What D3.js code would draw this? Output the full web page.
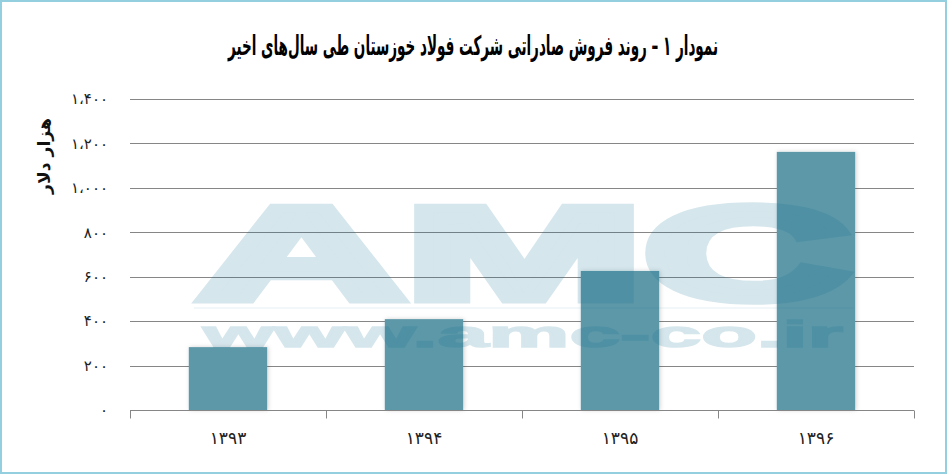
<!DOCTYPE html>
<html><head><meta charset="utf-8">
<script src="https://cdn.jsdelivr.net/npm/d3@7/dist/d3.min.js"></script>
<style>
html,body{margin:0;padding:0;background:#fff;}
svg{display:block;}
</style></head>
<body>
<svg id="chart" width="947" height="474"></svg>
<script>
const categories = ["۱۳۹۳", "۱۳۹۴", "۱۳۹۵", "۱۳۹۶"];
const values = [283, 409, 626, 1162];
const yTicks = [0, 200, 400, 600, 800, 1000, 1200, 1400];
const yTickLabels = ["۰", "۲۰۰", "۴۰۰", "۶۰۰", "۸۰۰", "۱،۰۰۰", "۱،۲۰۰", "۱،۴۰۰"];
const titleText = "نمودار ۱ – روند فروش صادراتی شرکت فولاد خوزستان طی سال‌های اخیر";
const yTitle = "هزار دلار";

const W = 947, H = 474;
const m = {left: 130, right: 33, top: 99, bottom: 64};
const svg = d3.select("#chart");

// border
svg.append("rect").attr("x", 1).attr("y", 1).attr("width", W - 2).attr("height", H - 2)
  .attr("fill", "#fff").attr("stroke", "#93cfdf").attr("stroke-width", 2);

const x = d3.scaleBand().domain(categories).range([m.left, W - m.right]).paddingInner(0.6).paddingOuter(0.3);
const y = d3.scaleLinear().domain([0, 1400]).range([H - m.bottom, m.top]);

// gridlines
svg.append("g").selectAll("line").data(yTicks.filter(d => d > 0)).join("line")
  .attr("x1", m.left).attr("x2", W - m.right)
  .attr("y1", d => Math.round(y(d)) + 0.5).attr("y2", d => Math.round(y(d)) + 0.5)
  .attr("stroke", "#868686").attr("stroke-width", 1);

// y labels
svg.append("g").selectAll("text").data(yTicks).join("text")
  .attr("x", 108).attr("y", d => y(d)).attr("dy", "0.35em")
  .attr("text-anchor", "end").attr("font-family", "DejaVu Sans").attr("font-size", 15)
  .attr("fill", "#222").text((d, i) => yTickLabels[i]);

// shadow filter
const defs = svg.append("defs");
const f = defs.append("filter").attr("id", "sh").attr("x", "-20%").attr("y", "-10%").attr("width", "140%").attr("height", "120%");
f.append("feDropShadow").attr("dx", 1).attr("dy", 0).attr("stdDeviation", 2).attr("flood-color", "#000").attr("flood-opacity", 0.18);

// bars
svg.append("g").selectAll("rect").data(values).join("rect")
  .attr("x", (d, i) => x(categories[i])).attr("width", x.bandwidth())
  .attr("y", d => y(d)).attr("height", d => y(0) - y(d))
  .attr("fill", "#5d98a8").attr("filter", "url(#sh)");

// watermark
const wm = svg.append("g").attr("opacity", 0.17).attr("fill", "rgb(12,110,145)")
  .attr("stroke", "rgb(12,110,145)").attr("stroke-linejoin", "miter").attr("pointer-events", "none");
wm.append("text").attr("x", 198).attr("y", 299).attr("textLength", 652).attr("lengthAdjust", "spacingAndGlyphs")
  .attr("stroke-width", 9)
  .attr("font-family", "Liberation Sans, Arial").attr("font-weight", 900).attr("font-size", 132).text("AMC");
wm.append("rect").attr("x", 194).attr("y", 307).attr("width", 660).attr("height", 2).attr("stroke", "none").attr("opacity", 0.3);
wm.append("text").attr("x", 203).attr("y", 347).attr("textLength", 640).attr("lengthAdjust", "spacingAndGlyphs")
  .attr("stroke-width", 1.5)
  .attr("font-family", "Liberation Sans, Arial").attr("font-weight", 900).attr("font-size", 37).text("www.amc-co.ir");

// x axis
const xAxisY = Math.round(y(0)) + 0.5;
svg.append("line").attr("x1", m.left).attr("x2", W - m.right).attr("y1", xAxisY).attr("y2", xAxisY)
  .attr("stroke", "#868686");
const bounds = categories.map(c => x(c) - x.step() * x.paddingInner() / 2);
bounds[0] = m.left;
bounds.push(W - m.right);
svg.append("g").selectAll("line").data(bounds).join("line")
  .attr("x1", d => Math.round(d) + 0.5).attr("x2", d => Math.round(d) + 0.5)
  .attr("y1", xAxisY).attr("y2", xAxisY + 8).attr("stroke", "#868686");
svg.append("g").selectAll("text").data(categories).join("text")
  .attr("x", d => x(d) + x.bandwidth() / 2).attr("y", 444)
  .attr("text-anchor", "middle").attr("font-family", "DejaVu Sans").attr("font-size", 17)
  .attr("fill", "#222").text(d => d);

// y title
svg.append("text").attr("transform", "translate(50,156) rotate(-90)")
  .attr("text-anchor", "middle").attr("direction", "rtl").attr("font-family", "DejaVu Sans")
  .attr("font-weight", "bold").attr("font-size", 17).attr("textLength", 76).attr("lengthAdjust", "spacingAndGlyphs")
  .attr("fill", "#111").text(yTitle);

// title
svg.append("text").attr("x", 473).attr("y", 55).attr("text-anchor", "middle").attr("direction", "rtl")
  .attr("font-family", "DejaVu Sans").attr("font-weight", "bold").attr("font-size", 27)
  .attr("textLength", 490).attr("lengthAdjust", "spacingAndGlyphs").attr("fill", "#000")
  .text(titleText);
</script>
</body></html>
